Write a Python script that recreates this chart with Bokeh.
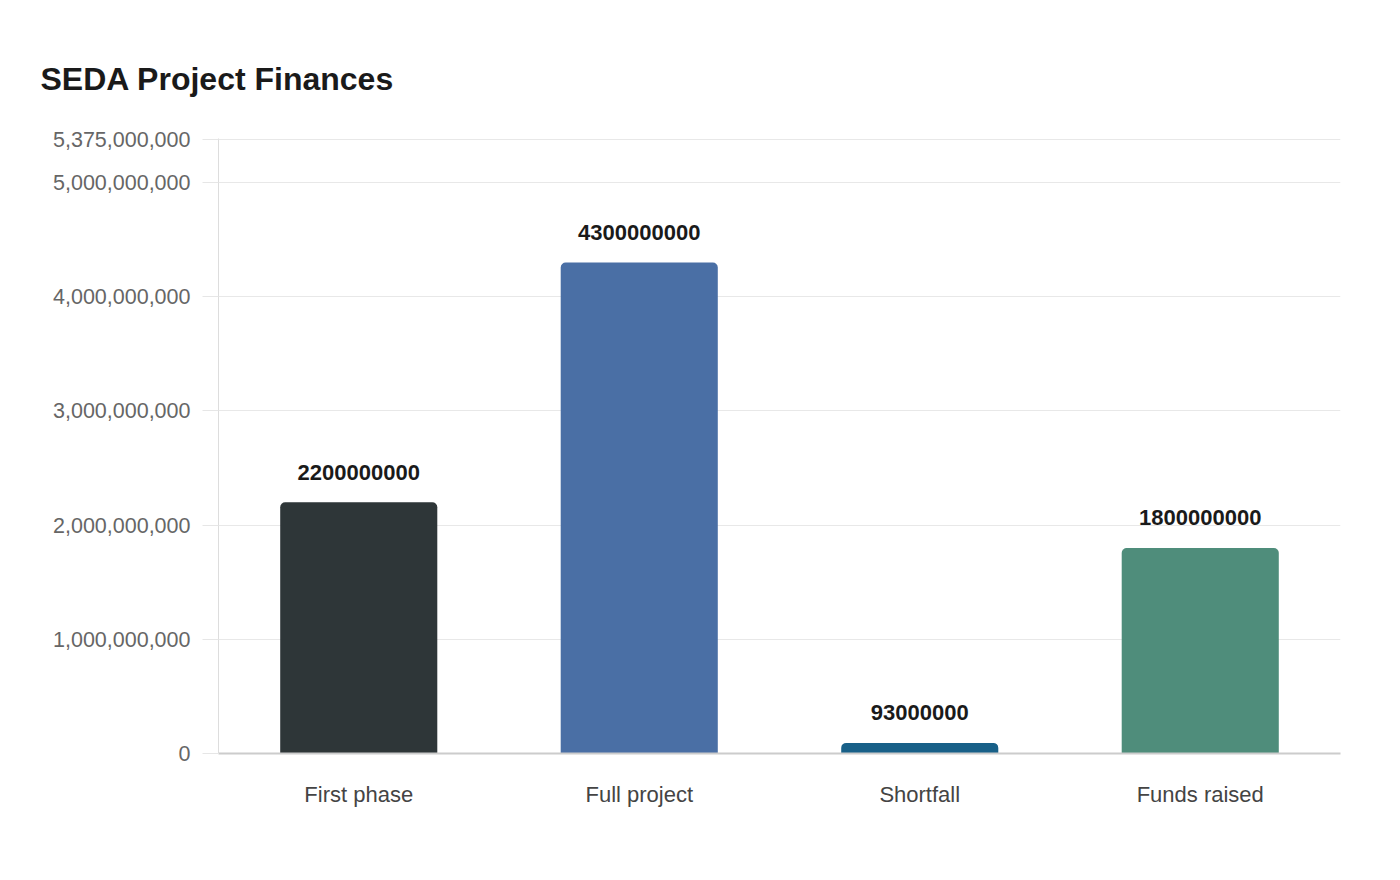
from bokeh.plotting import figure
from bokeh.models import ColumnDataSource, FixedTicker, NumeralTickFormatter, Range1d
from bokeh.core.properties import value
from bokeh.embed import file_html
from bokeh.resources import INLINE

categories = ["First phase", "Full project", "Shortfall", "Funds raised"]
amounts = [2200000000, 4300000000, 93000000, 1800000000]
bar_colors = ["#2e3638", "#4a6fa5", "#186088", "#4f8d7b"]
y_ticks = [0, 1000000000, 2000000000, 3000000000, 4000000000, 5000000000, 5375000000]
y_max = 5375000000
title_text = "SEDA Project Finances"

FONT = "Liberation Sans"

src = ColumnDataSource(dict(
    cat=categories,
    amt=amounts,
    color=bar_colors,
    label=[str(v) for v in amounts],
))

p = figure(
    x_range=categories,
    y_range=Range1d(0, y_max * 1.002),
    width=1384, height=864,
    output_backend="svg", toolbar_location=None,
    min_border_left=218, min_border_right=44,
    min_border_top=138, min_border_bottom=111,
    title=title_text,
)
p.outline_line_color = None
p.background_fill_color = "white"
p.border_fill_color = "white"

p.title.text_font = FONT
p.title.text_font_size = "32px"
p.title.text_font_style = "bold"
p.title.text_color = "#1a1a1a"
p.title.align = "left"
p.title.offset = -178
p.title.standoff = 83

p.vbar(x="cat", top="amt", width=0.56, source=src, color="color",
       line_color=None, border_radius=(5, 5, 0, 0))

p.text(x="cat", y="amt", text="label", source=src,
       text_font=value(FONT), text_font_style="bold", text_font_size="22px",
       text_color="#1a1a1a", text_align="center", text_baseline="alphabetic",
       y_offset=-30)

# y axis
p.yaxis.ticker = FixedTicker(ticks=y_ticks)
p.yaxis.formatter = NumeralTickFormatter(format="0,0")
p.yaxis.axis_line_color = "#dddddd"
p.yaxis.major_tick_out = 16
p.yaxis.major_tick_in = 0
p.yaxis.major_tick_line_color = "#e6e6e6"
p.yaxis.minor_tick_line_color = None
p.yaxis.major_label_standoff = 12
p.yaxis.major_label_text_font = FONT
p.yaxis.major_label_text_font_size = "21.5px"
p.yaxis.major_label_text_color = "#666666"

# x axis
p.xaxis.axis_line_color = "#cccccc"
p.xaxis.axis_line_width = 2
p.xaxis.major_tick_line_color = None
p.xaxis.minor_tick_line_color = None
p.xaxis.major_label_standoff = 22
p.xaxis.major_label_text_font = FONT
p.xaxis.major_label_text_font_size = "22px"
p.xaxis.major_label_text_color = "#444444"

p.xgrid.grid_line_color = None
p.ygrid.grid_line_color = "#e8e8e8"
p.ygrid.ticker = FixedTicker(ticks=y_ticks)

open("out.html", "w").write(file_html(p, INLINE))
